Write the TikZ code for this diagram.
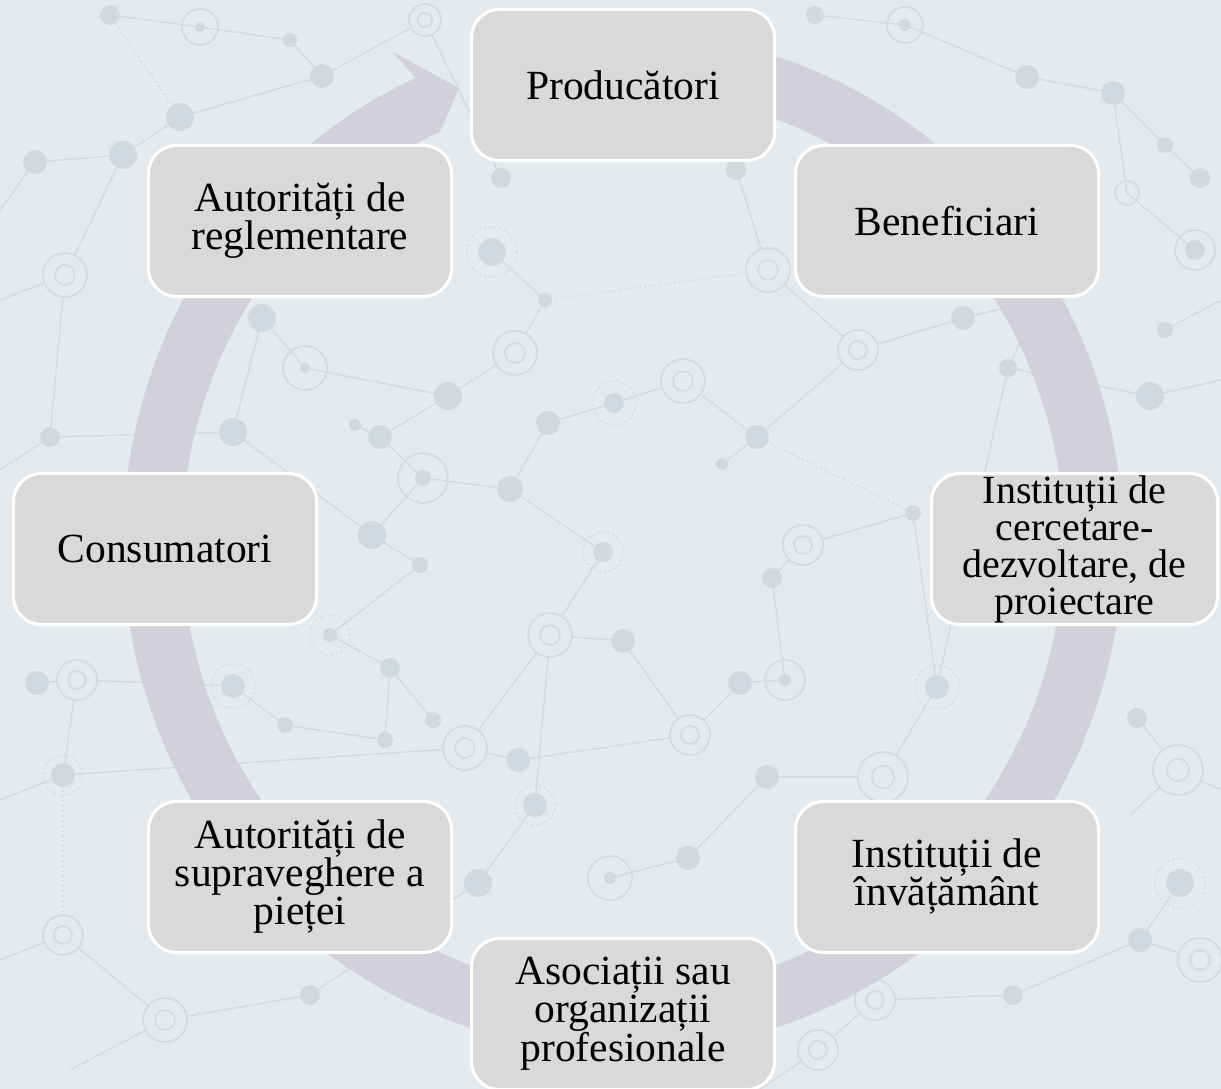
\documentclass[tikz,border=0pt]{standalone}
\usepackage{fontspec}
\setmainfont{Liberation Serif}
\definecolor{bgc}{RGB}{231,234,237}
\definecolor{patc}{RGB}{209,217,223}
\definecolor{linec}{RGB}{213,220,225}
\definecolor{ringc}{RGB}{208,209,219}
\definecolor{boxc}{RGB}{217,217,217}
\tikzset{
  cyclebox/.style={draw=white, line width=3pt, fill=boxc, rounded corners=28pt,
    minimum width=303pt, minimum height=151pt, inner sep=0pt, align=center,
    font=\fontsize{41.5}{38}\selectfont, text=black},
  bgdot/.style={fill=patc},
  bgline/.style={draw=linec, line width=1.5pt},
  bgring/.style={draw=linec, line width=1.8pt},
  bgdash/.style={draw=linec, line width=1.5pt, dash pattern=on 2pt off 3pt},
}
\begin{document}
\begin{tikzpicture}[x=1pt,y=1pt]
\fill[bgc] (0,0) rectangle (1221,-1089);
\useasboundingbox (0,0) rectangle (1221,-1089);
% background network pattern
\begin{scope}
\clip (0,0) rectangle (1221,-1089);
\foreach \a/\b/\c/\d in {110/15/200/27, 200/27/290/40, 290/40/322/76, 322/76/180/117, 180/117/123/155,
  123/155/35/162, 123/155/65/275, 35/162/0/210, 65/275/0/300, 65/275/50/437, 50/437/0/470,
  50/437/233/432, 233/432/262/318, 262/318/305/368, 305/368/448/396, 448/396/380/437, 380/437/355/425,
  380/437/423/478, 423/478/510/489, 423/478/372/535, 372/535/420/565, 372/535/233/432, 420/565/330/635,
  330/635/390/668, 390/668/433/720, 390/668/385/740, 285/725/233/686, 285/725/385/740, 233/686/77/680,
  77/680/37/683, 77/680/63/775, 63/775/0/800, 63/775/465/748, 465/748/518/760, 518/760/690/735,
  690/735/740/683, 740/683/785/680, 785/680/772/578, 772/578/803/545, 803/545/913/513,
  757/437/722/464, 757/437/683/381, 683/381/614/403, 614/403/548/423, 548/423/510/489, 510/489/603/552,
  603/552/550/635, 550/635/623/641, 623/641/690/735, 550/635/465/748, 550/635/535/805, 535/805/478/883,
  478/883/310/995, 610/878/688/858, 688/858/767/777, 767/777/883/777, 883/777/937/687,
  858/350/963/318, 963/318/1040/300, 1040/300/1008/368, 1008/368/1150/396, 1150/396/1221/380,
  1165/330/1221/300, 1195/250/1127/193, 1127/193/1113/93, 1113/93/1027/77, 1027/77/905/25, 905/25/815/15,
  1113/93/1165/145, 1165/145/1200/178, 1178/770/1137/718, 1178/770/1130/815, 1180/883/1140/940,
  1140/940/1200/960, 1013/995/875/1000, 875/1000/818/1050, 63/935/165/1020, 165/1020/310/995,
  63/935/0/960, 757/437/858/350, 736/170/768/270, 768/270/858/350, 545/300/492/252,
  545/300/515/353, 515/353/448/396, 501/178/425/20, 322/76/425/20, 1178/770/1221/790,
  913/513/937/687, 1008/368/937/687, 165/1020/70/1070, 818/1050/760/1089, 1013/995/1140/940}
  \draw[bgline] (\a,-\b) -- (\c,-\d);
\foreach \a/\b/\c/\d in {545/300/768/270, 110/15/180/117, 63/775/63/935, 757/437/913/513}
  \draw[bgdash] (\a,-\b) -- (\c,-\d);
\foreach \x/\y/\r in {110/15/10, 290/40/7, 322/76/12, 180/117/14, 123/155/14, 35/162/12, 501/178/10,
  492/252/14, 545/300/7, 262/318/14, 448/396/14, 380/437/12, 355/425/6, 233/432/14, 50/437/10,
  614/403/10, 757/437/12, 722/464/6, 548/423/12, 510/489/13, 423/478/8, 372/535/14, 420/565/8,
  603/552/10, 623/641/12, 330/635/7, 233/686/12, 37/683/12, 390/668/10, 518/760/12, 740/683/12,
  385/740/8, 433/720/8, 285/725/8, 63/775/12, 478/883/14, 688/858/12, 535/805/12, 767/777/12,
  1137/718/10, 1180/883/14, 1140/940/12, 1013/995/10, 963/318/12, 772/578/10, 937/687/12,
  1008/368/9, 1150/396/14, 913/513/8, 1040/300/12, 736/170/10, 310/995/10, 815/15/9, 1027/77/12,
  1113/93/12, 1165/145/8, 1200/178/10, 1165/330/8, 1195/250/10, 785/680/6, 610/878/6, 305/368/5,
  200/27/5, 905/25/6}
  \fill[bgdot] (\x,-\y) circle[radius=\r pt];
\foreach \x/\y/\r in {425/20/16, 65/275/22, 515/353/22, 683/381/22, 550/635/22, 77/680/20,
  465/748/22, 690/735/20, 1178/770/25, 1200/960/22, 875/1000/20, 858/350/20, 803/545/20, 63/935/20,
  165/1020/22, 818/1050/20, 883/777/25, 768/270/22}
  {\fill[bgc] (\x,-\y) circle[radius=\r pt];
   \draw[bgring] (\x,-\y) circle[radius=\r pt];
   \draw[bgring] (\x,-\y) circle[radius=0.45*\r pt];}
\foreach \x/\y/\r in {200/27/18, 905/25/18, 305/368/22, 423/478/25, 785/680/20, 610/878/22, 1195/250/20, 1127/193/12}
  \draw[bgring] (\x,-\y) circle[radius=\r pt];
\foreach \x/\y/\r in {492/252/25, 614/403/22, 603/552/20, 330/635/20, 233/686/22, 63/775/20,
  535/805/20, 937/687/22, 1180/883/25}
  \draw[bgdash] (\x,-\y) circle[radius=\r pt];
\end{scope}
% circular arrow
\fill[ringc] (640.45,-32.31)
  arc[start angle=88, end angle=-245.5, x radius=500pt, y radius=510pt]
  -- (393,-52) -- (459,-88) -- (440.12,-131.61)
  arc[start angle=-245.5, end angle=88, x radius=441pt, y radius=451pt] -- cycle;
% boxes
\node[cyclebox] (prod) at (623,-85) {Producători};
\node[cyclebox] (ben) at (947,-221) {Beneficiari};
\node[cyclebox, minimum width=286pt, font=\fontsize{40}{37}\selectfont] (cerc) at (1074.5,-549) {Instituții de\\cercetare-\\dezvoltare, de\\proiectare};
\node[cyclebox] (inv) at (947,-877) {Instituții de\\învățământ};
\node[cyclebox] (asoc) at (623,-1014) {Asociații sau\\organizații\\profesionale};
\node[cyclebox] (supr) at (300,-877) {Autorități de\\supraveghere a\\pieței};
\node[cyclebox] (cons) at (165,-549) {Consumatori};
\node[cyclebox] (regl) at (300,-221) {Autorități de\\reglementare};
\end{tikzpicture}
\end{document}
